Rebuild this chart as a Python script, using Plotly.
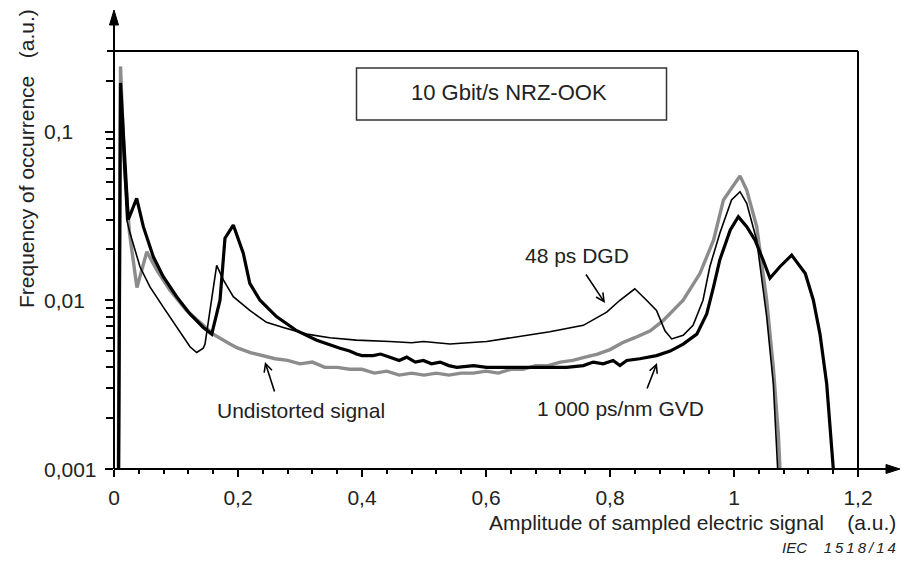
import math
import plotly.graph_objects as go

# ---------------- data ----------------
undist_x = [0.004, 0.0105, 0.017, 0.025, 0.037, 0.053, 0.069, 0.090, 0.117, 0.144, 0.160, 0.187,
            0.20, 0.22, 0.24, 0.26, 0.28, 0.30, 0.32, 0.34, 0.36, 0.38, 0.40, 0.42, 0.44, 0.46,
            0.48, 0.50, 0.52, 0.54, 0.56, 0.58, 0.60, 0.62, 0.64, 0.66, 0.68, 0.70, 0.72, 0.74,
            0.76, 0.78, 0.80, 0.82, 0.84, 0.865, 0.886, 0.918, 0.945, 0.967, 0.983, 1.0097,
            1.0205, 1.0366, 1.0527, 1.0634, 1.0715, 1.078]
undist_y = [1e-5, 0.243, 0.060, 0.025, 0.0119, 0.0194, 0.0151, 0.0115, 0.0087, 0.0071, 0.0063, 0.0055,
            0.0052, 0.0049, 0.0047, 0.0045, 0.0044, 0.0042, 0.0043, 0.0040, 0.0040, 0.0039, 0.0039,
            0.0037, 0.0038, 0.0036, 0.0037, 0.0036, 0.0037, 0.0036, 0.0037, 0.0037, 0.0038, 0.0037,
            0.0039, 0.0039, 0.0041, 0.0041, 0.0043, 0.0044, 0.0046, 0.0048, 0.0051, 0.0056, 0.0060,
            0.0066, 0.0076, 0.0100, 0.0144, 0.0227, 0.0393, 0.0546, 0.0450, 0.0273, 0.0100, 0.0040,
            0.00161, 0.0005]

dgd_x = [0.003, 0.0105, 0.0205, 0.0258, 0.0419, 0.058, 0.0795, 0.101, 0.1226, 0.1334, 0.144, 0.1468,
         0.1656, 0.1763, 0.1924, 0.219, 0.246, 0.273, 0.311, 0.348, 0.391, 0.445, 0.48, 0.499, 0.542,
         0.601, 0.65, 0.703, 0.757, 0.7947, 0.816, 0.840, 0.859, 0.875, 0.8887, 0.8995, 0.918, 0.934,
         0.950, 0.961, 0.977, 0.996, 1.0097, 1.0205, 1.0366, 1.0527, 1.0634, 1.0715, 1.076]
dgd_y = [1e-5, 0.15, 0.030, 0.025, 0.0158, 0.0120, 0.0091, 0.0069, 0.0053, 0.0049, 0.0052, 0.0055,
         0.0161, 0.0132, 0.0105, 0.0087, 0.0074, 0.0069, 0.0063, 0.0060, 0.0058, 0.0057, 0.0056,
         0.0057, 0.0055, 0.0057, 0.0061, 0.0065, 0.0071, 0.0085, 0.0100, 0.0117, 0.0100, 0.0087,
         0.0066, 0.0059, 0.0062, 0.0071, 0.0100, 0.0158, 0.0249, 0.0393, 0.0440, 0.0375, 0.0227,
         0.0080, 0.0032, 0.0010, 0.0004]

gvd_x = [0.005, 0.0105, 0.023, 0.0366, 0.0473, 0.0634, 0.0795, 0.101, 0.1226, 0.144, 0.1576, 0.171,
         0.179, 0.1924, 0.2085, 0.219, 0.2355, 0.262, 0.2947, 0.327, 0.3645, 0.38, 0.391, 0.40, 0.418,
         0.43, 0.445, 0.46, 0.472, 0.486, 0.499, 0.512, 0.526, 0.54, 0.553, 0.58, 0.601, 0.63, 0.66,
         0.70, 0.73, 0.757, 0.773, 0.789, 0.805, 0.816, 0.827, 0.848, 0.875, 0.897, 0.918, 0.940,
         0.956, 0.967, 0.977, 0.994, 1.007, 1.0205, 1.034, 1.047, 1.058, 1.074, 1.093, 1.115, 1.128,
         1.1387, 1.1495, 1.160, 1.165]
gvd_y = [1e-5, 0.194, 0.030, 0.0402, 0.0273, 0.0181, 0.0138, 0.0105, 0.0083, 0.0069, 0.0063, 0.0100,
         0.0233, 0.0279, 0.0190, 0.0126, 0.0100, 0.0080, 0.0066, 0.0058, 0.0052, 0.0050, 0.0048,
         0.0047, 0.0047, 0.0048, 0.0046, 0.0044, 0.0046, 0.0043, 0.0044, 0.0042, 0.0043, 0.0041,
         0.0040, 0.0041, 0.0040, 0.0040, 0.0040, 0.0040, 0.0040, 0.0041, 0.0043, 0.0042, 0.0044,
         0.0041, 0.0044, 0.0045, 0.0047, 0.0050, 0.0055, 0.0063, 0.0083, 0.0120, 0.0173, 0.0261,
         0.0313, 0.0273, 0.0227, 0.0173, 0.0135, 0.0158, 0.0185, 0.0144, 0.0100, 0.0063, 0.0032,
         0.00102, 0.0004]

x_tickvals = [0, 0.2, 0.4, 0.6, 0.8, 1.0, 1.2]
x_ticktext = ["0", "0,2", "0,4", "0,6", "0,8", "1", "1,2"]
y_tickvals = [0.001, 0.01, 0.1]
y_ticktext = ["0,001", "0,01", "0,1"]
y_minorvals = [m * d for d in (0.001, 0.01) for m in range(2, 10)] + [0.2]

# ---------------- geometry helpers (pixel -> paper) ----------------
W, H = 901, 561
L, R, T, B = 114, 43, 51, 92
PW, PH = W - L - R, H - T - B


def xp(px):
    return (px - L) / PW


def yp(py):
    return (H - B - py) / PH


FONT = "Liberation Sans, Arial, sans-serif"
TXT = "#222222"

fig = go.Figure()
fig.add_trace(go.Scatter(x=undist_x, y=undist_y, mode="lines",
                         line=dict(color="#8c8c8c", width=3.4), name="Undistorted signal"))
fig.add_trace(go.Scatter(x=dgd_x, y=dgd_y, mode="lines",
                         line=dict(color="#000000", width=1.6), name="48 ps DGD"))
fig.add_trace(go.Scatter(x=gvd_x, y=gvd_y, mode="lines",
                         line=dict(color="#000000", width=3.2), name="1 000 ps/nm GVD"))

shapes = []
# axis lines with arrows
shapes.append(dict(type="line", xref="paper", yref="paper", x0=0, x1=0, y0=0, y1=yp(22),
                   line=dict(color="black", width=2)))
shapes.append(dict(type="path", xref="paper", yref="paper",
                   path=f"M {xp(114)},{yp(10)} L {xp(109.5)},{yp(25)} L {xp(118.5)},{yp(25)} Z",
                   fillcolor="black", line=dict(color="black", width=1)))
shapes.append(dict(type="line", xref="paper", yref="paper", x0=0, x1=xp(888), y0=0, y1=0,
                   line=dict(color="black", width=2)))
shapes.append(dict(type="path", xref="paper", yref="paper",
                   path=f"M {xp(900)},{yp(469)} L {xp(886)},{yp(464.5)} L {xp(886)},{yp(473.5)} Z",
                   fillcolor="black", line=dict(color="black", width=1)))
# frame (top + right)
shapes.append(dict(type="line", xref="paper", yref="paper", x0=xp(107), x1=1, y0=1, y1=1,
                   line=dict(color="black", width=2)))
shapes.append(dict(type="line", xref="paper", yref="paper", x0=1, x1=1, y0=0, y1=1,
                   line=dict(color="black", width=2)))
# title box
shapes.append(dict(type="rect", xref="paper", yref="paper", x0=xp(356.5), x1=xp(666.5),
                   y0=yp(120), y1=yp(68), line=dict(color="#333333", width=1.5)))

annotations = [
    dict(text="10 Gbit/s NRZ-OOK", x=xp(509), y=yp(93), xanchor="center", yanchor="middle",
         font=dict(size=22, color=TXT, family=FONT)),
    dict(text="Frequency of occurrence\u00a0\u00a0\u00a0(a.u.)", x=xp(26), y=yp(159),
         textangle=-90, xanchor="center", yanchor="middle",
         font=dict(size=21, color=TXT, family=FONT)),
    dict(text="Amplitude of sampled electric signal\u00a0\u00a0\u00a0\u00a0(a.u.)", x=xp(898), y=yp(522),
         xanchor="right", yanchor="middle", font=dict(size=21, color=TXT, family=FONT)),
    dict(text="<i>IEC\u00a0\u00a0\u00a0\u00a01\u20095\u20091\u20098\u2009/\u20091\u20094</i>",
         x=xp(898), y=yp(547),
         xanchor="right", yanchor="middle", font=dict(size=15, color=TXT, family=FONT)),
    dict(text="48 ps DGD", x=xp(631), y=yp(256), xanchor="right", yanchor="middle",
         font=dict(size=21, color=TXT, family=FONT)),
    dict(text="1 000 ps/nm GVD", x=xp(620), y=yp(408), xanchor="center", yanchor="middle",
         font=dict(size=21, color=TXT, family=FONT)),
    dict(text="Undistorted signal", x=xp(301), y=yp(410), xanchor="center", yanchor="middle",
         font=dict(size=21, color=TXT, family=FONT)),
]
# y tick labels: left-aligned, placed on the axis' own (log) scale
for v, t in zip(y_tickvals, y_ticktext):
    annotations.append(dict(text=t, x=xp(42), xref="paper", y=math.log10(v), yref="y",
                            xanchor="left", yanchor="middle",
                            font=dict(size=21, color=TXT, family=FONT)))
# arrows (head position in paper coords, tail offset in pixels)
for hx, hy, tx, ty in [(605, 303, 585, 273), (657, 363, 646.5, 390), (265, 362, 275, 393)]:
    annotations.append(dict(text="", x=xp(hx), y=yp(hy), xref="paper", yref="paper",
                            ax=tx - hx, ay=ty - hy, showarrow=True, arrowhead=5,
                            arrowsize=1, arrowwidth=1.6, arrowcolor="black"))
for a in annotations:
    a.setdefault("xref", "paper")
    a.setdefault("yref", "paper")
    a.setdefault("showarrow", False)

fig.update_layout(
    width=W, height=H,
    margin=dict(l=L, r=R, t=T, b=B, pad=0),
    paper_bgcolor="white", plot_bgcolor="white",
    showlegend=False,
    shapes=shapes, annotations=annotations,
    font=dict(family=FONT, size=21, color=TXT),
)
fig.update_xaxes(
    range=[0, 1.2], showgrid=False, zeroline=False, showline=False,
    tickmode="array", tickvals=x_tickvals, ticktext=x_ticktext,
    ticks="outside", ticklen=7, tickwidth=1.5, tickcolor="black",
    ticklabelstandoff=3,
    tickfont=dict(size=21, color=TXT, family=FONT),
    minor=dict(tick0=0, dtick=0.04, ticks="outside", ticklen=4, tickwidth=1.5, tickcolor="black",
               showgrid=False),
)
fig.update_yaxes(
    type="log", range=[-3, -0.5229], showgrid=False, zeroline=False, showline=False,
    tickmode="array", tickvals=y_tickvals, ticktext=y_ticktext, showticklabels=False,
    ticks="outside", ticklen=8, tickwidth=1.5, tickcolor="black",
    minor=dict(tickmode="array", tickvals=y_minorvals, ticks="outside", ticklen=7, tickwidth=1.5,
               tickcolor="black", showgrid=False),
)

fig.write_html("out.html")
